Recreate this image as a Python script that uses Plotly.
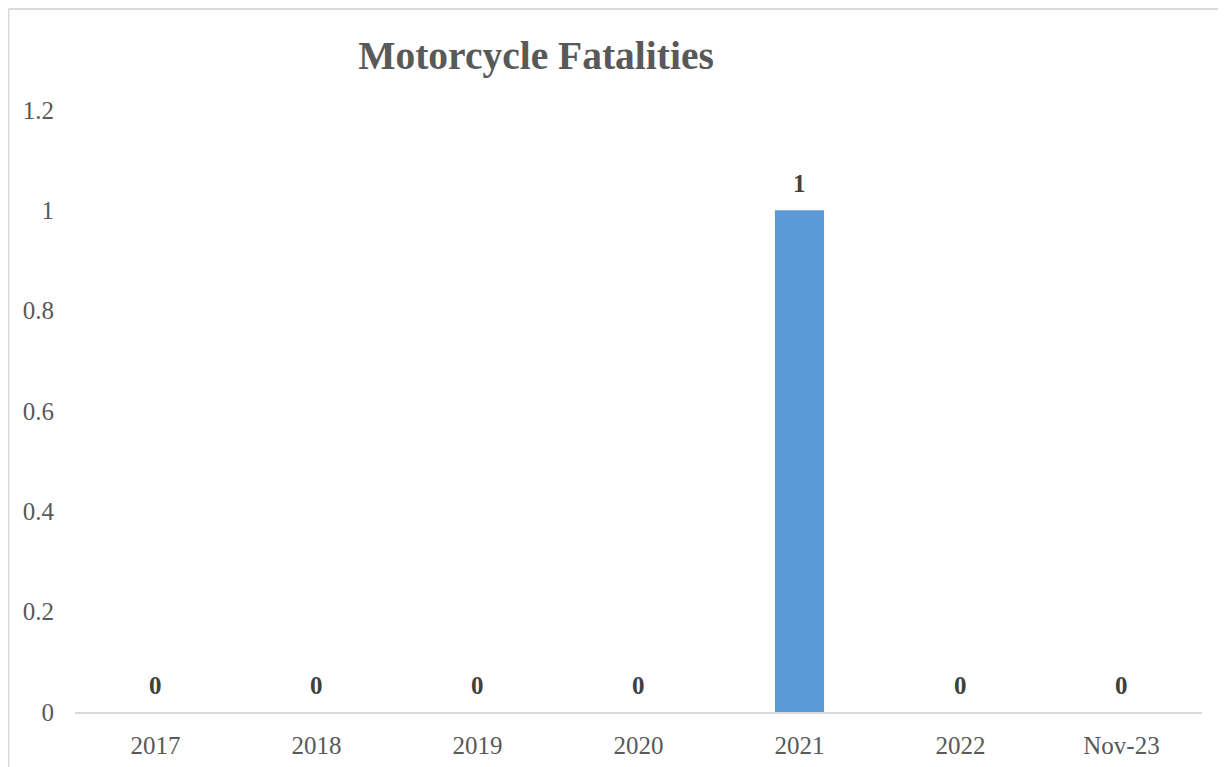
import plotly.graph_objects as go

categories = ["2017", "2018", "2019", "2020", "2021", "2022", "Nov-23"]
fatalities = [0, 0, 0, 0, 1, 0, 0]
y_ticks = [0, 0.2, 0.4, 0.6, 0.8, 1, 1.2]
y_tick_labels = ["0", "0.2", "0.4", "0.6", "0.8", "1", "1.2"]

W, H = 1226, 767
ml, mr, mt, mb = 67, 32, 102, 63
pw, ph = W - ml - mr, H - mt - mb

fig = go.Figure()
fig.add_trace(go.Bar(
    x=categories,
    y=fatalities,
    marker=dict(color="#5B9BD5", line=dict(width=0)),
    width=0.305,
    cliponaxis=False,
))

for i, v in enumerate(fatalities):
    fig.add_annotation(
        x=i, y=v, xref="x", yref="y",
        text="<b>%d</b>" % v,
        showarrow=False,
        yanchor="middle",
        yshift=27,
        font=dict(family="Liberation Serif", size=25, color="#404040"),
    )

def px_x(p):
    return (p - ml) / pw

def px_y(p):
    return (H - mb - p) / ph

fig.update_layout(
    width=W, height=H,
    margin=dict(l=ml, r=mr, t=mt, b=mb),
    paper_bgcolor="white",
    plot_bgcolor="white",
    showlegend=False,
    bargap=0.695,
    title=dict(
        text="<b>Motorcycle Fatalities</b>",
        font=dict(family="Liberation Serif", size=39.5, color="#595959"),
        x=528 / W, xanchor="center",
        y=1 - 47 / H, yanchor="middle",
    ),
    xaxis=dict(
        type="category",
        categoryorder="array",
        categoryarray=categories,
        range=[-0.5, len(categories) - 0.5],
        showgrid=False,
        showline=True,
        linecolor="#D9D9D9",
        linewidth=2,
        ticks="",
        ticklabelstandoff=10,
        tickfont=dict(family="Liberation Serif", size=25, color="#595959"),
    ),
    yaxis=dict(
        range=[0, 1.2],
        tickvals=y_ticks,
        ticktext=y_tick_labels,
        showgrid=False,
        zeroline=False,
        showline=False,
        ticks="",
        ticklabelstandoff=20,
        tickfont=dict(family="Liberation Serif", size=25, color="#595959"),
    ),
    shapes=[
        dict(type="line", xref="paper", yref="paper",
             x0=px_x(0.5), x1=px_x(0.5), y0=px_y(H + 5), y1=px_y(1),
             line=dict(color="#D9D9D9", width=2)),
        dict(type="line", xref="paper", yref="paper",
             x0=px_x(0.5), x1=px_x(W + 5), y0=px_y(1), y1=px_y(1),
             line=dict(color="#D9D9D9", width=2)),
    ],
)

fig.write_html("out.html")
